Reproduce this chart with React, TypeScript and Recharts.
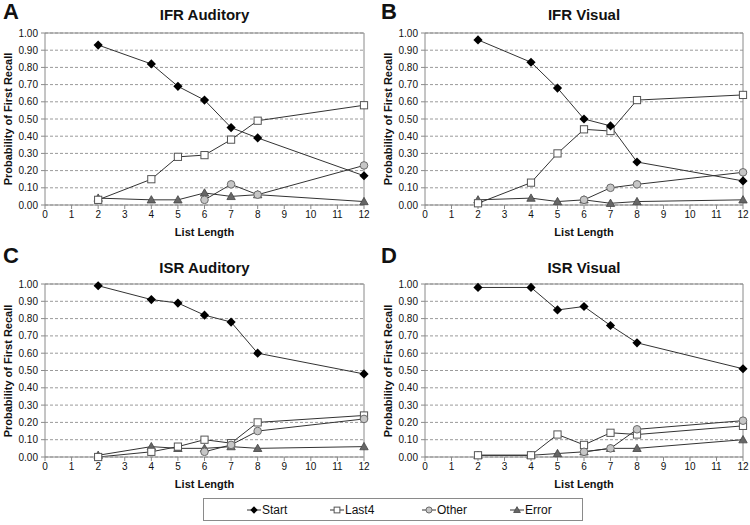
import React from "react";
import { LineChart, Line, XAxis, YAxis, CartesianGrid, ReferenceLine } from "recharts";

// ---------------------------------------------------------------------------
// Data (probability of first recall by list length)
// ---------------------------------------------------------------------------

const listLengths = [2, 4, 5, 6, 7, 8, 12];
const xTicks = [0, 1, 2, 3, 4, 5, 6, 7, 8, 9, 10, 11, 12];
const yTicks = [0, 0.1, 0.2, 0.3, 0.4, 0.5, 0.6, 0.7, 0.8, 0.9, 1.0];

// A: IFR Auditory
const ifrAudStart = [0.93, 0.82, 0.69, 0.61, 0.45, 0.39, 0.17];
const ifrAudLast4 = [0.03, 0.15, 0.28, 0.29, 0.38, 0.49, 0.58];
const ifrAudOther = [null, null, null, 0.03, 0.12, 0.06, 0.23];
const ifrAudError = [0.04, 0.03, 0.03, 0.07, 0.05, 0.06, 0.02];

// B: IFR Visual
const ifrVisStart = [0.96, 0.83, 0.68, 0.5, 0.46, 0.25, 0.14];
const ifrVisLast4 = [0.01, 0.13, 0.3, 0.44, 0.43, 0.61, 0.64];
const ifrVisOther = [null, null, null, 0.03, 0.1, 0.12, 0.19];
const ifrVisError = [0.03, 0.04, 0.02, 0.03, 0.01, 0.02, 0.03];

// C: ISR Auditory
const isrAudStart = [0.99, 0.91, 0.89, 0.82, 0.78, 0.6, 0.48];
const isrAudLast4 = [0.0, 0.03, 0.06, 0.1, 0.08, 0.2, 0.24];
const isrAudOther = [null, null, null, 0.03, 0.07, 0.15, 0.22];
const isrAudError = [0.01, 0.06, 0.05, 0.05, 0.06, 0.05, 0.06];

// D: ISR Visual
const isrVisStart = [0.98, 0.98, 0.85, 0.87, 0.76, 0.66, 0.51];
const isrVisLast4 = [0.01, 0.01, 0.13, 0.07, 0.14, 0.13, 0.18];
const isrVisOther = [null, null, null, 0.03, 0.05, 0.16, 0.21];
const isrVisError = [0.01, 0.01, 0.02, 0.03, 0.05, 0.05, 0.1];

const FONT = "Arial, 'Liberation Sans', Helvetica, sans-serif";
const AXIS = "#8a8a8a";
const LINE = "#333333";

// ---------------------------------------------------------------------------
// Markers
// ---------------------------------------------------------------------------

type Kind = "start" | "last4" | "other" | "error";

function Marker({ kind, cx, cy, s = 1 }: { kind: Kind; cx: number; cy: number; s?: number }) {
  if (kind === "start") {
    const r = 4.6 * s;
    return (
      <path
        d={`M${cx},${cy - r}L${cx + r},${cy}L${cx},${cy + r}L${cx - r},${cy}Z`}
        fill="#000"
      />
    );
  }
  if (kind === "last4") {
    const h = 3.6 * s;
    return (
      <rect x={cx - h} y={cy - h} width={h * 2} height={h * 2} fill="#fff" stroke="#555" strokeWidth={1} />
    );
  }
  if (kind === "other") {
    return <circle cx={cx} cy={cy} r={3.8 * s} fill="#c6c6c6" stroke="#6a6a6a" strokeWidth={1} />;
  }
  const t = 4.2 * s;
  return (
    <path
      d={`M${cx},${cy - t}L${cx + t},${cy + t * 0.75}L${cx - t},${cy + t * 0.75}Z`}
      fill="#666"
      stroke="#444"
      strokeWidth={0.8}
    />
  );
}

const makeDot = (kind: Kind) => (props: any) => {
  const { cx, cy, index, value } = props;
  if (cx == null || cy == null || value == null || isNaN(cy)) {
    return <g key={`${kind}-${index}`} />;
  }
  return (
    <g key={`${kind}-${index}`}>
      <Marker kind={kind} cx={cx} cy={cy} />
    </g>
  );
};

// ---------------------------------------------------------------------------
// Positioned text helper
// ---------------------------------------------------------------------------

function Label({
  x,
  y,
  children,
  size,
  bold = true,
  rotate = false,
}: {
  x: number;
  y: number;
  children: React.ReactNode;
  size: number;
  bold?: boolean;
  rotate?: boolean;
}) {
  return (
    <div
      style={{
        position: "absolute",
        left: x,
        top: y,
        transform: `translate(-50%, -50%)${rotate ? " rotate(-90deg)" : ""}`,
        whiteSpace: "nowrap",
        fontSize: size,
        fontWeight: bold ? 700 : 400,
        fontFamily: FONT,
        color: "#111",
        lineHeight: 1,
      }}
    >
      {children}
    </div>
  );
}

// ---------------------------------------------------------------------------
// Panel
// ---------------------------------------------------------------------------

interface PanelProps {
  letter: string;
  title: string;
  start: (number | null)[];
  last4: (number | null)[];
  other: (number | null)[];
  error: (number | null)[];
  left: number;
  top: number;
  height: number;
  yAxisWidth: number;
  marginTop: number;
  marginRight: number;
  xAxisHeight: number;
  titleY: number;
  xLabelY: number;
  yLabelX: number;
  letterX: number;
  letterY: number;
}

function Panel(p: PanelProps) {
  const data = listLengths.map((len, i) => ({
    len,
    start: p.start[i],
    last4: p.last4[i],
    other: p.other[i],
    error: p.error[i],
  }));
  const width = 375;
  const plotLeft = p.yAxisWidth;
  const plotRight = width - p.marginRight;
  const plotTop = p.marginTop;
  const plotBottom = p.height - p.xAxisHeight;
  const cx = (plotLeft + plotRight) / 2;
  const cy = (plotTop + plotBottom) / 2;

  return (
    <div style={{ position: "absolute", left: p.left, top: p.top, width, height: p.height }}>
      <LineChart
        width={width}
        height={p.height}
        data={data}
        margin={{ top: p.marginTop, right: p.marginRight, left: 0, bottom: 0 }}
      >
        <CartesianGrid vertical={false} stroke="#9a9a9a" strokeDasharray="3 2" />
        <XAxis
          type="number"
          dataKey="len"
          domain={[0, 12]}
          ticks={xTicks}
          interval={0}
          height={p.xAxisHeight}
          tickSize={4}
          tickMargin={2}
          axisLine={{ stroke: AXIS }}
          tickLine={{ stroke: AXIS }}
          tick={{ fontSize: 10, fill: "#111", fontFamily: FONT }}
        />
        <YAxis
          type="number"
          domain={[0, 1]}
          ticks={yTicks}
          interval={0}
          width={p.yAxisWidth}
          tickSize={4}
          tickMargin={3}
          tickFormatter={(v: number) => v.toFixed(2)}
          axisLine={{ stroke: AXIS }}
          tickLine={{ stroke: AXIS }}
          tick={{ fontSize: 10, fill: "#111", fontFamily: FONT }}
        />
        <ReferenceLine y={1} stroke={AXIS} />
        <ReferenceLine x={12} stroke={AXIS} />
        <Line
          dataKey="error"
          type="linear"
          stroke={LINE}
          strokeWidth={1}
          dot={makeDot("error")}
          activeDot={false}
          isAnimationActive={false}
        />
        <Line
          dataKey="last4"
          type="linear"
          stroke={LINE}
          strokeWidth={1}
          dot={makeDot("last4")}
          activeDot={false}
          isAnimationActive={false}
        />
        <Line
          dataKey="other"
          type="linear"
          stroke={LINE}
          strokeWidth={1}
          dot={makeDot("other")}
          activeDot={false}
          isAnimationActive={false}
        />
        <Line
          dataKey="start"
          type="linear"
          stroke={LINE}
          strokeWidth={1}
          dot={makeDot("start")}
          activeDot={false}
          isAnimationActive={false}
        />
      </LineChart>

      <Label x={p.letterX} y={p.letterY} size={22}>
        {p.letter}
      </Label>
      <Label x={cx} y={p.titleY} size={15}>
        {p.title}
      </Label>
      <Label x={cx} y={p.xLabelY} size={11}>
        List Length
      </Label>
      <Label x={p.yLabelX} y={cy} size={11} rotate>
        Probability of First Recall
      </Label>
    </div>
  );
}

// ---------------------------------------------------------------------------
// Legend
// ---------------------------------------------------------------------------

const legendItems: { kind: Kind; name: string; x: number }[] = [
  { kind: "start", name: "Start", x: 43 },
  { kind: "last4", name: "Last4", x: 126 },
  { kind: "other", name: "Other", x: 218 },
  { kind: "error", name: "Error", x: 306 },
];

function Legend() {
  return (
    <div
      style={{
        position: "absolute",
        left: 203,
        top: 498,
        width: 378,
        height: 21,
        border: "1px solid #8a8a8a",
        fontFamily: FONT,
        fontSize: 12,
        color: "#111",
      }}
    >
      {legendItems.map((it) => (
        <div
          key={it.name}
          style={{
            position: "absolute",
            left: it.x,
            top: 0,
            height: 21,
            display: "flex",
            alignItems: "center",
            gap: 1,
          }}
        >
          <svg width={14} height={10}>
            <line x1={0} x2={14} y1={5} y2={5} stroke={LINE} strokeWidth={1} />
            <Marker kind={it.kind} cx={7} cy={5} s={0.8} />
          </svg>
          <span>{it.name}</span>
        </div>
      ))}
    </div>
  );
}

// ---------------------------------------------------------------------------
// App
// ---------------------------------------------------------------------------

export default function App() {
  const topRow = { top: 0, height: 245, marginTop: 33, xAxisHeight: 40, titleY: 14, xLabelY: 232, letterY: 12 };
  const botRow = { top: 245, height: 250, marginTop: 39, xAxisHeight: 38, titleY: 22, xLabelY: 239, letterY: 11 };
  const leftCol = { left: 0, yAxisWidth: 45, marginRight: 11, yLabelX: 8, letterX: 11 };
  const rightCol = { left: 375, yAxisWidth: 50, marginRight: 7, yLabelX: 13, letterX: 14 };

  return (
    <div
      style={{
        position: "absolute",
        left: 0,
        top: 0,
        width: 750,
        height: 525,
        background: "#fff",
        fontFamily: FONT,
      }}
    >
      <Panel
        letter="A"
        title="IFR Auditory"
        start={ifrAudStart}
        last4={ifrAudLast4}
        other={ifrAudOther}
        error={ifrAudError}
        {...topRow}
        {...leftCol}
      />
      <Panel
        letter="B"
        title="IFR Visual"
        start={ifrVisStart}
        last4={ifrVisLast4}
        other={ifrVisOther}
        error={ifrVisError}
        {...topRow}
        {...rightCol}
      />
      <Panel
        letter="C"
        title="ISR Auditory"
        start={isrAudStart}
        last4={isrAudLast4}
        other={isrAudOther}
        error={isrAudError}
        {...botRow}
        {...leftCol}
      />
      <Panel
        letter="D"
        title="ISR Visual"
        start={isrVisStart}
        last4={isrVisLast4}
        other={isrVisOther}
        error={isrVisError}
        {...botRow}
        {...rightCol}
      />
      <Legend />
    </div>
  );
}
